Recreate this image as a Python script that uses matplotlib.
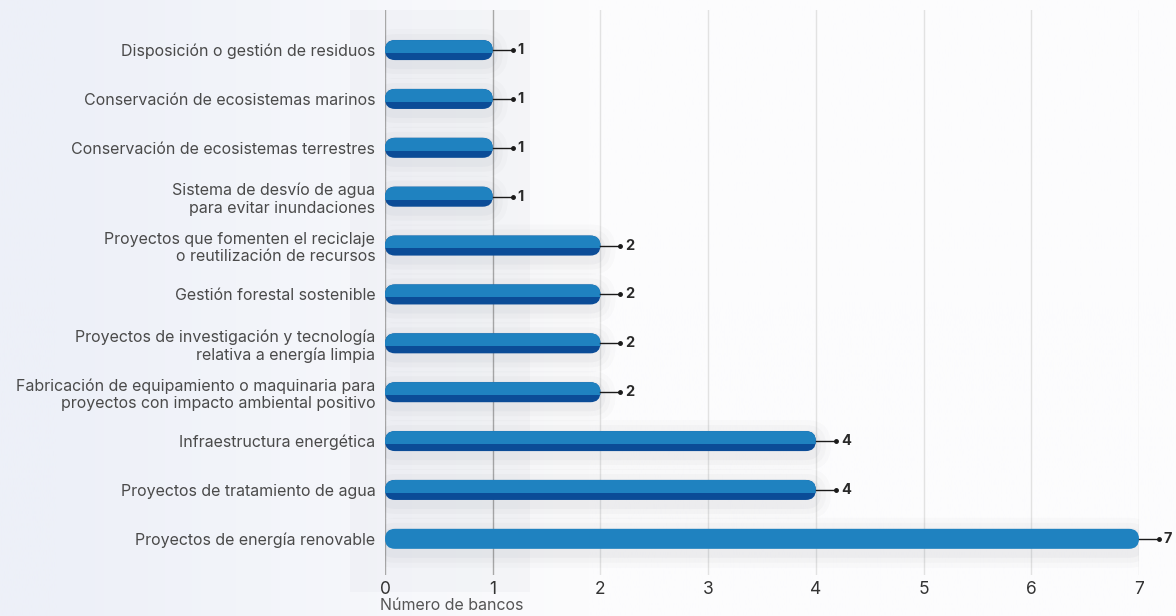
# Bancos por tipo de proyecto verde - barras horizontales redondeadas
import numpy as np
import matplotlib.pyplot as plt
from matplotlib.patches import FancyBboxPatch, Rectangle

plt.rcParams['font.family'] = ['Inter', 'DejaVu Sans']

categories = [
    'Proyectos de energía renovable',
    'Proyectos de tratamiento de agua',
    'Infraestructura energética',
    'Fabricación de equipamiento o maquinaria para\nproyectos con impacto ambiental positivo',
    'Proyectos de investigación y tecnología\nrelativa a energía limpia',
    'Gestión forestal sostenible',
    'Proyectos que fomenten el reciclaje\no reutilización de recursos',
    'Sistema de desvío de agua\npara evitar inundaciones',
    'Conservación de ecosistemas terrestres',
    'Conservación de ecosistemas marinos',
    'Disposición o gestión de residuos',
]
values = [7, 4, 4, 2, 2, 2, 2, 1, 1, 1, 1]
xticks = [0, 1, 2, 3, 4, 5, 6, 7]

light = '#1f82c0'
dark = '#0b4c97'

W, H = 1176, 616
fig = plt.figure(figsize=(W / 100, H / 100), dpi=100)

# background gradient (light blue-grey on the left fading to white)
bg = fig.add_axes([0, 0, 1, 1], zorder=-2)
grad = np.linspace(0, 1, 400)
ramp = np.clip((grad - 0.05) / 0.45, 0, 1)
c0 = np.array([237, 240, 248]) / 255
c1 = np.array([252, 252, 253]) / 255
img = c0[None, :] * (1 - ramp[:, None]) + c1[None, :] * ramp[:, None]
bg.imshow(img[None, :, :], aspect='auto', extent=[0, 1, 0, 1])
bg.add_patch(Rectangle((350 / W, 24 / H), 180 / W, 582 / H,
                       color='#e4e6ec', alpha=0.25, lw=0))
bg.axis('off')

left, right, top, bottom = 385 / W, 1139 / W, 1 - 10 / H, 1 - 575 / H
ax = fig.add_axes([left, bottom, right - left, top - bottom])
ax.set_facecolor('none')
ylo, yhi = -0.74, 10.82
ax.set_xlim(0, 7)
ax.set_ylim(ylo, yhi)

px_x = (right - left) * W / 7
px_y = (top - bottom) * H / (yhi - ylo)
aspect = px_x / px_y
h = 20 / px_y
r = 10 / px_x

for gx in xticks:
    col = '#a8a8a8' if gx < 2 else '#e2e2e2'
    ax.axvline(gx, color=col, lw=1, zorder=0)

y = np.arange(len(categories))
for i, v in enumerate(values):
    yc = y[i]
    # soft shadow
    for k, a in enumerate([0.03, 0.025, 0.02]):
        grow = (k + 1) * 5
        sh = FancyBboxPatch((-grow / px_x, yc - h / 2 - (grow + 4) / px_y),
                            v + 2 * grow / px_x, h + 2 * grow / px_y,
                            boxstyle=f'round,pad=0,rounding_size={r + grow / px_x}',
                            mutation_aspect=aspect, fc='#303848', ec='none',
                            alpha=a, zorder=1)
        ax.add_patch(sh)
    if i > 0:
        base = FancyBboxPatch((0, yc - h / 2), v, h,
                              boxstyle=f'round,pad=0,rounding_size={r}',
                              mutation_aspect=aspect, fc=dark, ec='none', zorder=2)
        ax.add_patch(base)
    top_bar = FancyBboxPatch((0, yc - h / 2), v, h,
                             boxstyle=f'round,pad=0,rounding_size={r}',
                             mutation_aspect=aspect, fc=light, ec='none', zorder=3)
    ax.add_patch(top_bar)
    if i > 0:
        clip = Rectangle((-1, yc - h / 2 + 0.36 * h), 10, h, transform=ax.transData)
        top_bar.set_clip_path(clip)
    # connector + value
    x1 = v + 20 / px_x
    ax.plot([v, x1], [yc, yc], color='#1a1a1a', lw=1, zorder=4, clip_on=False)
    ax.plot(x1, yc, 'o', ms=2.5, color='#1a1a1a', zorder=4, clip_on=False)
    ax.text(x1 + 5 / px_x, yc, str(v), va='center', ha='left', fontsize=10.5,
            fontweight='bold', color='#2a2a2a', clip_on=False)

ax.set_yticks(y)
ax.set_yticklabels(categories, fontsize=11.5, color='#4a4a4a')
ax.set_xticks(xticks)
ax.set_xticklabels([str(t) for t in xticks], fontsize=12.5, color='#333333')
ax.tick_params(axis='y', length=0, pad=7)
ax.tick_params(axis='x', length=0, pad=4)
for s in ax.spines.values():
    s.set_visible(False)

fig.text(380 / W, 1 - 605 / H, 'Número de bancos', ha='left', va='center',
         fontsize=11.5, color='#555555')

fig.savefig('out.png', dpi=100)
